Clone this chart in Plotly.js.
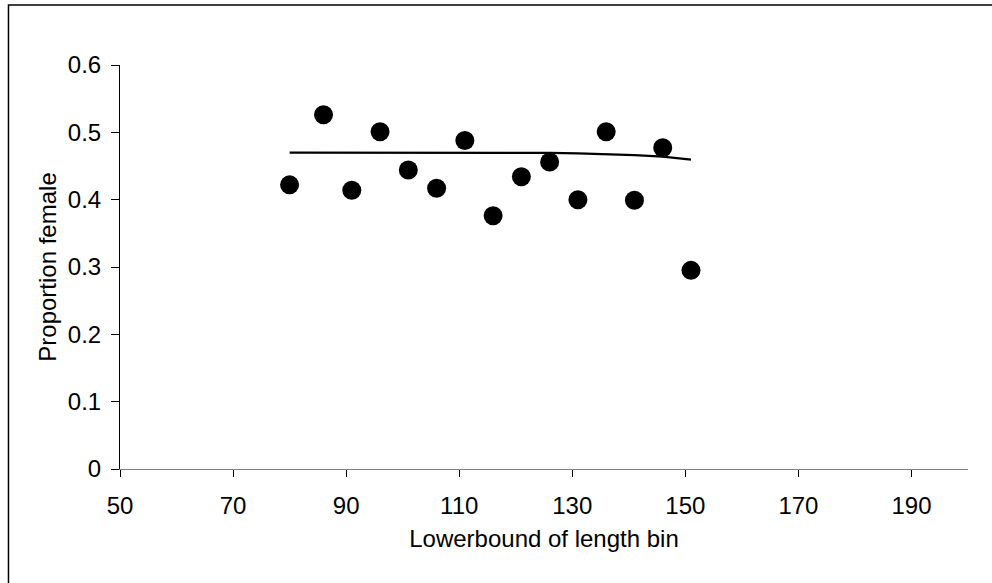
<!DOCTYPE html>
<html>
<head>
<meta charset="utf-8">
<script src="https://cdn.plot.ly/plotly-3.0.1.min.js"></script>
<style>
  html, body { margin: 0; padding: 0; background: #fff; overflow: hidden; }
  #chart { width: 992px; height: 583px; }
</style>
</head>
<body>
<div id="chart"></div>
<script>
// Observed proportion female by lower bound of length bin
const binLower = [80, 86, 91, 96, 101, 106, 111, 116, 121, 126, 131, 136, 141, 146, 151];
const propFemale = [0.422, 0.526, 0.414, 0.501, 0.444, 0.417, 0.488, 0.376, 0.434, 0.456, 0.400, 0.501, 0.399, 0.477, 0.295];
// Fitted curve
const fitted = [0.470, 0.470, 0.470, 0.470, 0.470, 0.470, 0.470, 0.470, 0.4698, 0.4695, 0.4688, 0.4678, 0.4662, 0.4640, 0.4595];
const xTicks = [50, 70, 90, 110, 130, 150, 170, 190];
const yTicks = [0, 0.1, 0.2, 0.3, 0.4, 0.5, 0.6];

const font = { family: '"Liberation Sans", Arial, sans-serif', size: 24, color: '#000' };

const traces = [
  {
    x: binLower, y: fitted, type: 'scatter', mode: 'lines',
    line: { color: '#000', width: 2.2 }, hoverinfo: 'skip', showlegend: false
  },
  {
    x: binLower, y: propFemale, type: 'scatter', mode: 'markers',
    marker: { color: '#000', size: 19, line: { width: 0 } }, showlegend: false
  }
];

const layout = {
  width: 992, height: 583,
  margin: { l: 120, r: 24, t: 65, b: 114, pad: 0 },
  paper_bgcolor: '#fff', plot_bgcolor: '#fff',
  font: font,
  showlegend: false,
  xaxis: {
    range: [50, 200], tickvals: xTicks, ticktext: xTicks.map(String),
    showgrid: false, zeroline: false,
    showline: true, linecolor: '#808080', linewidth: 1,
    ticks: 'outside', ticklen: 7, tickwidth: 1, tickcolor: '#000',
    tickfont: font, ticklabelstandoff: 8,
    title: { text: 'Lowerbound of length bin', font: font, standoff: 12 },
    automargin: false
  },
  yaxis: {
    range: [0, 0.6], tickvals: yTicks, ticktext: yTicks.map(v => v === 0 ? '0' : v.toFixed(1)),
    showgrid: false, zeroline: false,
    showline: true, linecolor: '#000', linewidth: 1,
    ticks: 'outside', ticklen: 8, tickwidth: 1, tickcolor: '#000',
    tickfont: font, ticklabelstandoff: 5,
    title: { text: 'Proportion female', font: font, standoff: 4 },
    automargin: false
  },
  shapes: [
    {
      type: 'path', xref: 'paper', yref: 'paper',
      path: 'M -0.1315 -0.35 L -0.1315 1.1485 L 1.05 1.1485',
      line: { color: '#000', width: 1.5 }
    }
  ]
};

Plotly.newPlot('chart', traces, layout, { displayModeBar: false, staticPlot: true });
</script>
</body>
</html>
